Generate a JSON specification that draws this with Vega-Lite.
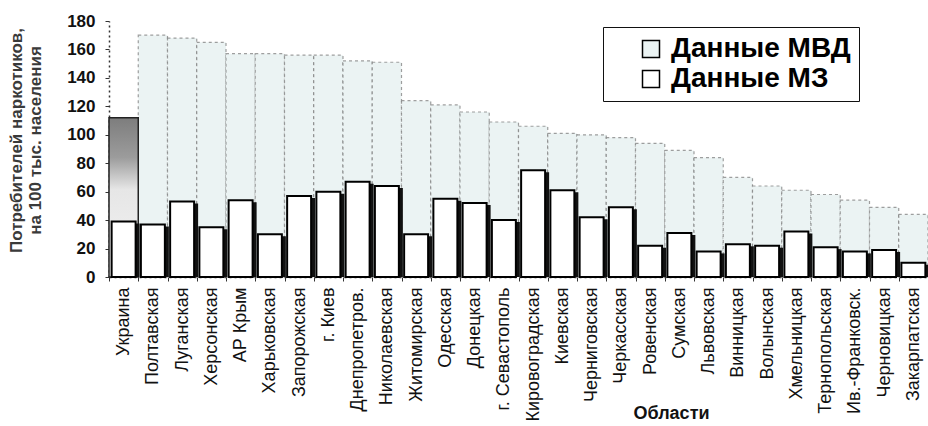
{
  "$schema": "https://vega.github.io/schema/vega-lite/v6.json",
  "width": 819,
  "height": 256,
  "autosize": {"type": "none"},
  "padding": {"left": 109, "top": 21, "right": 0, "bottom": 149},
  "background": "white",
  "config": {"view": {"stroke": null}, "font": "Liberation Sans"},
  "data": {
    "values": [
      {"region": "Украина", "series": "Данные МВД", "value": 112},
      {"region": "Полтавская", "series": "Данные МВД", "value": 170},
      {"region": "Луганская", "series": "Данные МВД", "value": 168},
      {"region": "Херсонская", "series": "Данные МВД", "value": 165},
      {"region": "АР Крым", "series": "Данные МВД", "value": 157},
      {"region": "Харьковская", "series": "Данные МВД", "value": 157},
      {"region": "Запорожская", "series": "Данные МВД", "value": 156},
      {"region": "г. Киев", "series": "Данные МВД", "value": 156},
      {"region": "Днепропетров.", "series": "Данные МВД", "value": 152},
      {"region": "Николаевская", "series": "Данные МВД", "value": 151},
      {"region": "Житомирская", "series": "Данные МВД", "value": 124},
      {"region": "Одесская", "series": "Данные МВД", "value": 121},
      {"region": "Донецкая", "series": "Данные МВД", "value": 116},
      {"region": "г. Севастополь", "series": "Данные МВД", "value": 109},
      {"region": "Кировоградская", "series": "Данные МВД", "value": 106},
      {"region": "Киевская", "series": "Данные МВД", "value": 101},
      {"region": "Черниговская", "series": "Данные МВД", "value": 100},
      {"region": "Черкасская", "series": "Данные МВД", "value": 98},
      {"region": "Ровенская", "series": "Данные МВД", "value": 94},
      {"region": "Сумская", "series": "Данные МВД", "value": 89},
      {"region": "Львовская", "series": "Данные МВД", "value": 84},
      {"region": "Винницкая", "series": "Данные МВД", "value": 70},
      {"region": "Волынская", "series": "Данные МВД", "value": 64},
      {"region": "Хмельницкая", "series": "Данные МВД", "value": 61},
      {"region": "Тернопольская", "series": "Данные МВД", "value": 58},
      {"region": "Ив.-Франковск.", "series": "Данные МВД", "value": 54},
      {"region": "Черновицкая", "series": "Данные МВД", "value": 49},
      {"region": "Закарпатская", "series": "Данные МВД", "value": 44},
      {"region": "Украина", "series": "Данные МЗ", "value": 39},
      {"region": "Полтавская", "series": "Данные МЗ", "value": 37},
      {"region": "Луганская", "series": "Данные МЗ", "value": 53},
      {"region": "Херсонская", "series": "Данные МЗ", "value": 35},
      {"region": "АР Крым", "series": "Данные МЗ", "value": 54},
      {"region": "Харьковская", "series": "Данные МЗ", "value": 30},
      {"region": "Запорожская", "series": "Данные МЗ", "value": 57},
      {"region": "г. Киев", "series": "Данные МЗ", "value": 60},
      {"region": "Днепропетров.", "series": "Данные МЗ", "value": 67},
      {"region": "Николаевская", "series": "Данные МЗ", "value": 64},
      {"region": "Житомирская", "series": "Данные МЗ", "value": 30},
      {"region": "Одесская", "series": "Данные МЗ", "value": 55},
      {"region": "Донецкая", "series": "Данные МЗ", "value": 52},
      {"region": "г. Севастополь", "series": "Данные МЗ", "value": 40},
      {"region": "Кировоградская", "series": "Данные МЗ", "value": 75},
      {"region": "Киевская", "series": "Данные МЗ", "value": 61},
      {"region": "Черниговская", "series": "Данные МЗ", "value": 42},
      {"region": "Черкасская", "series": "Данные МЗ", "value": 49},
      {"region": "Ровенская", "series": "Данные МЗ", "value": 22},
      {"region": "Сумская", "series": "Данные МЗ", "value": 31},
      {"region": "Львовская", "series": "Данные МЗ", "value": 18},
      {"region": "Винницкая", "series": "Данные МЗ", "value": 23},
      {"region": "Волынская", "series": "Данные МЗ", "value": 22},
      {"region": "Хмельницкая", "series": "Данные МЗ", "value": 32},
      {"region": "Тернопольская", "series": "Данные МЗ", "value": 21},
      {"region": "Ив.-Франковск.", "series": "Данные МЗ", "value": 18},
      {"region": "Черновицкая", "series": "Данные МЗ", "value": 19},
      {"region": "Закарпатская", "series": "Данные МЗ", "value": 10}
    ]
  },
  "encoding": {
    "x": {
      "field": "region",
      "type": "nominal",
      "sort": null,
      "scale": {"paddingInner": 0, "paddingOuter": 0},
      "axis": {
        "labelAngle": -90,
        "labelFontSize": 18,
        "labelColor": "#111",
        "labelPadding": 6,
        "labelLimit": 200,
        "ticks": true,
        "tickSize": 4,
        "tickColor": "#333",
        "tickBand": "extent",
        "domainColor": "#333",
        "domainDash": [2, 3],
        "domainWidth": 1.5,
        "title": "Области",
        "titleFontSize": 18,
        "titleFontWeight": "bold",
        "titleColor": "#111",
        "titleX": 562,
        "titleY": 127,
        "titleBaseline": "top",
        "titleAlign": "center"
      }
    },
    "y": {
      "field": "value",
      "type": "quantitative",
      "scale": {"domain": [0, 180], "nice": false},
      "axis": {
        "values": [0, 20, 40, 60, 80, 100, 120, 140, 160, 180],
        "grid": false,
        "labelFontSize": 17,
        "labelFontWeight": "bold",
        "labelColor": "#111",
        "labelPadding": 10,
        "tickSize": 4,
        "tickColor": "#333",
        "domainColor": "#333",
        "domainDash": [2, 3],
        "domainWidth": 1.5,
        "title": ["Потребителей наркотиков,", "на 100 тыс. населения"],
        "titleFontSize": 17,
        "titleFontWeight": "bold",
        "titleColor": "#3a3a3a",
        "titleLineHeight": 19,
        "titleAngle": -90,
        "titleX": -101,
        "titleY": 119,
        "titleAlign": "center",
        "titleBaseline": "top"
      }
    }
  },
  "layer": [
    {
      "transform": [{"filter": "datum.series === 'Данные МВД'"}],
      "mark": {"type": "bar", "stroke": "#777", "strokeWidth": 1.2, "strokeDash": [3, 3], "strokeOpacity": 0.7},
      "encoding": {
        "color": {
          "field": "series",
          "type": "nominal",
          "scale": {"domain": ["Данные МВД", "Данные МЗ"], "range": ["#ebf3f3", "#ffffff"]},
          "legend": {
            "title": null,
            "orient": "none",
            "legendX": 494,
            "legendY": 6,
            "direction": "vertical",
            "fillColor": "white",
            "strokeColor": "#111",
            "padding": 8,
            "symbolType": "square",
            "symbolSize": 289,
            "symbolStrokeColor": "#111",
            "symbolStrokeWidth": 1.5,
            "symbolOffset": 26,
            "labelFontSize": 28,
            "labelFontWeight": "bold",
            "labelColor": "#000",
            "labelOffset": 6,
            "rowPadding": 2,
            "labelLimit": 400
          }
        }
      }
    },
    {
      "transform": [{"filter": "datum.series === 'Данные МВД' && datum.region === 'Украина'"}],
      "mark": {
        "type": "bar",
        "fill": {"gradient": "linear", "x1": 0, "y1": 0, "x2": 0, "y2": 1,
          "stops": [{"offset": 0, "color": "#7d7d7d"}, {"offset": 0.25, "color": "#9c9c9c"}, {"offset": 0.45, "color": "#e6e6e6"}, {"offset": 1, "color": "#f4f4f4"}]},
        "stroke": "#222",
        "strokeWidth": 1.5
      }
    },
    {
      "transform": [{"filter": "datum.series === 'Данные МЗ'"}],
      "mark": {"type": "bar", "color": "#111", "width": {"band": 0.82}, "xOffset": 4, "yOffset": 2, "clip": true}
    },
    {
      "transform": [{"filter": "datum.series === 'Данные МЗ'"}],
      "mark": {"type": "bar", "stroke": "#000", "strokeWidth": 2, "width": {"band": 0.82}},
      "encoding": {"color": {"field": "series", "type": "nominal"}}
    }
  ]
}
